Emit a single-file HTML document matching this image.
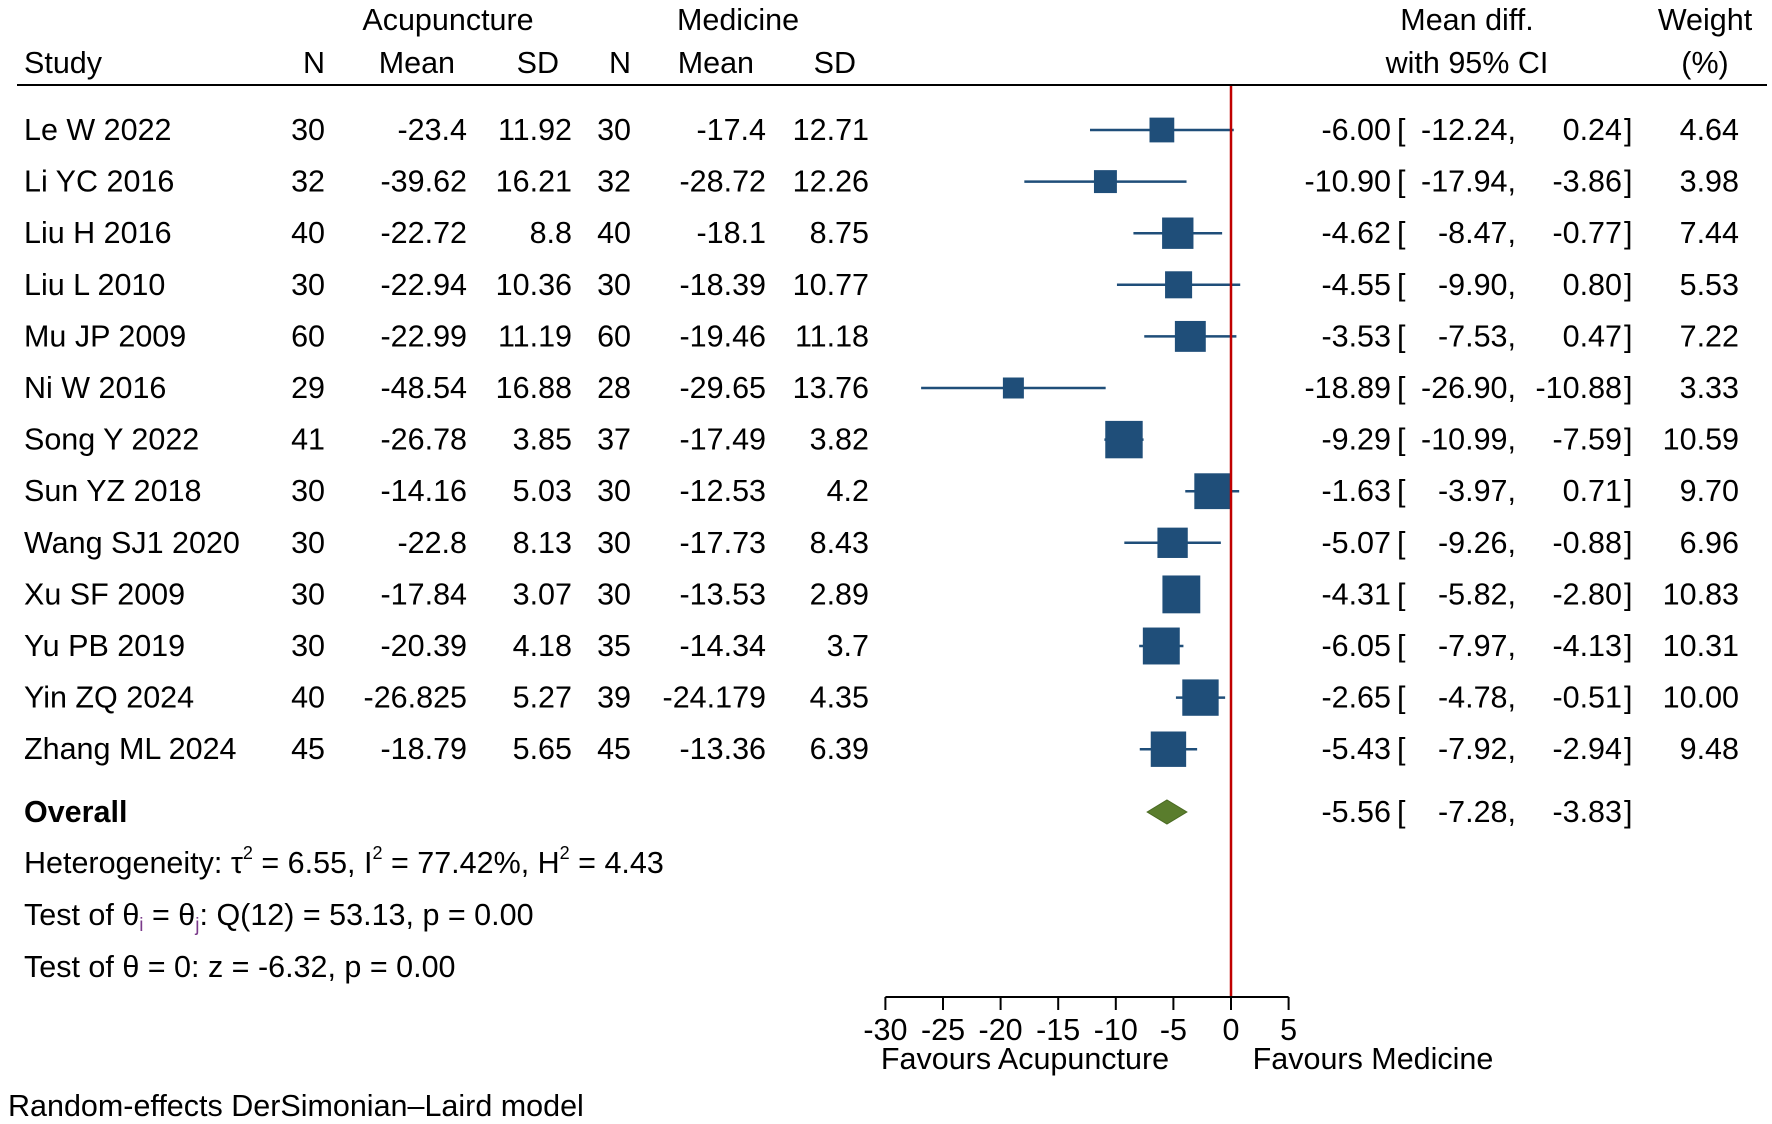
<!DOCTYPE html>
<html><head><meta charset="utf-8"><style>
html,body{margin:0;padding:0;background:#fff}
svg{display:block;font-family:"Liberation Sans",Arial,sans-serif}
</style></head><body>
<svg id="chart" width="1772" height="1124" viewBox="0 0 1772 1124">
<g id="hdr" font-size="30.5" fill="#000">
<text x="448" y="30" text-anchor="middle">Acupuncture</text>
<text x="738" y="30" text-anchor="middle">Medicine</text>
<text x="1467" y="30" text-anchor="middle">Mean diff.</text>
<text x="1705" y="30" text-anchor="middle">Weight</text>
<text x="24" y="73">Study</text>
<text x="325" y="73" text-anchor="end">N</text>
<text x="455" y="73" text-anchor="end">Mean</text>
<text x="559" y="73" text-anchor="end">SD</text>
<text x="631" y="73" text-anchor="end">N</text>
<text x="754" y="73" text-anchor="end">Mean</text>
<text x="856" y="73" text-anchor="end">SD</text>
<text x="1467" y="73" text-anchor="middle">with 95% CI</text>
<text x="1705" y="73" text-anchor="middle">(%)</text>
</g>
<line x1="17" y1="85" x2="1767" y2="85" stroke="#000" stroke-width="2"/>
<g id="rows"></g>
<g id="marks"></g>
<g font-size="30.5" fill="#000">
<text x="24" y="822" font-weight="bold">Overall</text>
<text x="24" y="873">Heterogeneity: τ<tspan dy="-14" font-size="18">2</tspan><tspan dy="14"> = 6.55, I</tspan><tspan dy="-14" font-size="18">2</tspan><tspan dy="14"> = 77.42%, H</tspan><tspan dy="-14" font-size="18">2</tspan><tspan dy="14"> = 4.43</tspan></text>
<text x="24" y="925">Test of θ<tspan dy="6" font-size="19" fill="#7a3a8a">i</tspan><tspan dy="-6"> = θ</tspan><tspan dy="6" font-size="19" fill="#7a3a8a">j</tspan><tspan dy="-6">: Q(12) = 53.13, p = 0.00</tspan></text>
<text x="24" y="977">Test of θ = 0: z = -6.32, p = 0.00</text>
<text x="8" y="1116">Random-effects DerSimonian–Laird model</text>
<text x="1025" y="1069" text-anchor="middle">Favours Acupuncture</text>
<text x="1373" y="1069" text-anchor="middle">Favours Medicine</text>
</g>
<g id="axis"></g>
</svg>
<script>
const studies=["Le W 2022","Li YC 2016","Liu H 2016","Liu L 2010","Mu JP 2009","Ni W 2016","Song Y 2022","Sun YZ 2018","Wang SJ1 2020","Xu SF 2009","Yu PB 2019","Yin ZQ 2024","Zhang ML 2024"];
const n1=["30","32","40","30","60","29","41","30","30","30","30","40","45"];
const mean1=["-23.4","-39.62","-22.72","-22.94","-22.99","-48.54","-26.78","-14.16","-22.8","-17.84","-20.39","-26.825","-18.79"];
const sd1=["11.92","16.21","8.8","10.36","11.19","16.88","3.85","5.03","8.13","3.07","4.18","5.27","5.65"];
const n2=["30","32","40","30","60","28","37","30","30","30","35","39","45"];
const mean2=["-17.4","-28.72","-18.1","-18.39","-19.46","-29.65","-17.49","-12.53","-17.73","-13.53","-14.34","-24.179","-13.36"];
const sd2=["12.71","12.26","8.75","10.77","11.18","13.76","3.82","4.2","8.43","2.89","3.7","4.35","6.39"];
const md=[-6.00,-10.90,-4.62,-4.55,-3.53,-18.89,-9.29,-1.63,-5.07,-4.31,-6.05,-2.65,-5.43];
const lo=[-12.24,-17.94,-8.47,-9.90,-7.53,-26.90,-10.99,-3.97,-9.26,-5.82,-7.97,-4.78,-7.92];
const hi=[0.24,-3.86,-0.77,0.80,0.47,-10.88,-7.59,0.71,-0.88,-2.80,-4.13,-0.51,-2.94];
const weight=[4.64,3.98,7.44,5.53,7.22,3.33,10.59,9.70,6.96,10.83,10.31,10.00,9.48];
const overall=[-5.56,-7.28,-3.83];
const ticks=[-30,-25,-20,-15,-10,-5,0,5];

const NS="http://www.w3.org/2000/svg";
const X0=1231, PX=11.52;
const xs=v=>X0+v*PX;
const rowY=i=>130+i*51.6;
const f2=v=>v.toFixed(2);
function mk(tag,attrs,parent,txt){const e=document.createElementNS(NS,tag);for(const k in attrs)e.setAttribute(k,attrs[k]);if(txt!==undefined)e.textContent=txt;parent.appendChild(e);return e;}
const rows=document.getElementById('rows'), marks=document.getElementById('marks'), axis=document.getElementById('axis');

function txt(parent,x,y,s,anchor,name){
  const t=mk('text',{x:x,y:y,'font-size':30.5,'text-anchor':anchor},parent,s);
  
  
  return t;
}
studies.forEach((s,i)=>{
  const y=rowY(i)+10;
  txt(rows,24,y,s,'start','study-name');
  txt(rows,325,y,n1[i],'end','n-acupuncture');
  txt(rows,467,y,mean1[i],'end','mean-acupuncture');
  txt(rows,572,y,sd1[i],'end','sd-acupuncture');
  txt(rows,631,y,n2[i],'end','n-medicine');
  txt(rows,766,y,mean2[i],'end','mean-medicine');
  txt(rows,869,y,sd2[i],'end','sd-medicine');
  txt(rows,1391,y,f2(md[i]),'end','mean-diff');
  txt(rows,1397,y,'[','start','ci-bracket-open');
  txt(rows,1516,y,f2(lo[i])+',','end','ci-lower');
  txt(rows,1622,y,f2(hi[i]),'end','ci-upper');
  txt(rows,1624,y,']','start','ci-bracket-close');
  txt(rows,1739,y,f2(weight[i]),'end','weight-value');
  const cy=rowY(i);
  const l=mk('line',{x1:xs(lo[i]),x2:xs(hi[i]),y1:cy,y2:cy,stroke:'#1f4e79','stroke-width':2.5},marks);
  
  
  const sz=11.5*Math.sqrt(weight[i]);
  const r=mk('rect',{x:xs(md[i])-sz/2,y:cy-sz/2,width:sz,height:sz,fill:'#1f4e79'},marks);
  
  
});
const oy=812;
txt(rows,1391,oy+10,f2(overall[0]),'end','overall-mean-diff');
txt(rows,1397,oy+10,'[','start','ci-bracket-open');
txt(rows,1516,oy+10,f2(overall[1])+',','end','overall-ci-lower');
txt(rows,1622,oy+10,f2(overall[2]),'end','overall-ci-upper');
txt(rows,1624,oy+10,']','start','ci-bracket-close');
const d=mk('polygon',{points:`${xs(overall[1])},${oy} ${xs(overall[0])},${oy-12} ${xs(overall[2])},${oy} ${xs(overall[0])},${oy+12}`,fill:'#5a7d2d',stroke:'#4a6a22','stroke-width':1},marks);


const rl=mk('line',{x1:xs(0),x2:xs(0),y1:86,y2:997,stroke:'#c00000','stroke-width':2.5},marks);


const al=mk('line',{x1:xs(ticks[0]),x2:xs(ticks[ticks.length-1]),y1:997,y2:997,stroke:'#000','stroke-width':2},axis);


ticks.forEach(t=>{
  const tk=mk('line',{x1:xs(t),x2:xs(t),y1:997,y2:1010,stroke:'#000','stroke-width':2},axis);
  
  
  const tl=mk('text',{x:xs(t),y:1040,'font-size':30.5,'text-anchor':'middle'},axis,String(t));
  
  
});
</script>
</body></html>
